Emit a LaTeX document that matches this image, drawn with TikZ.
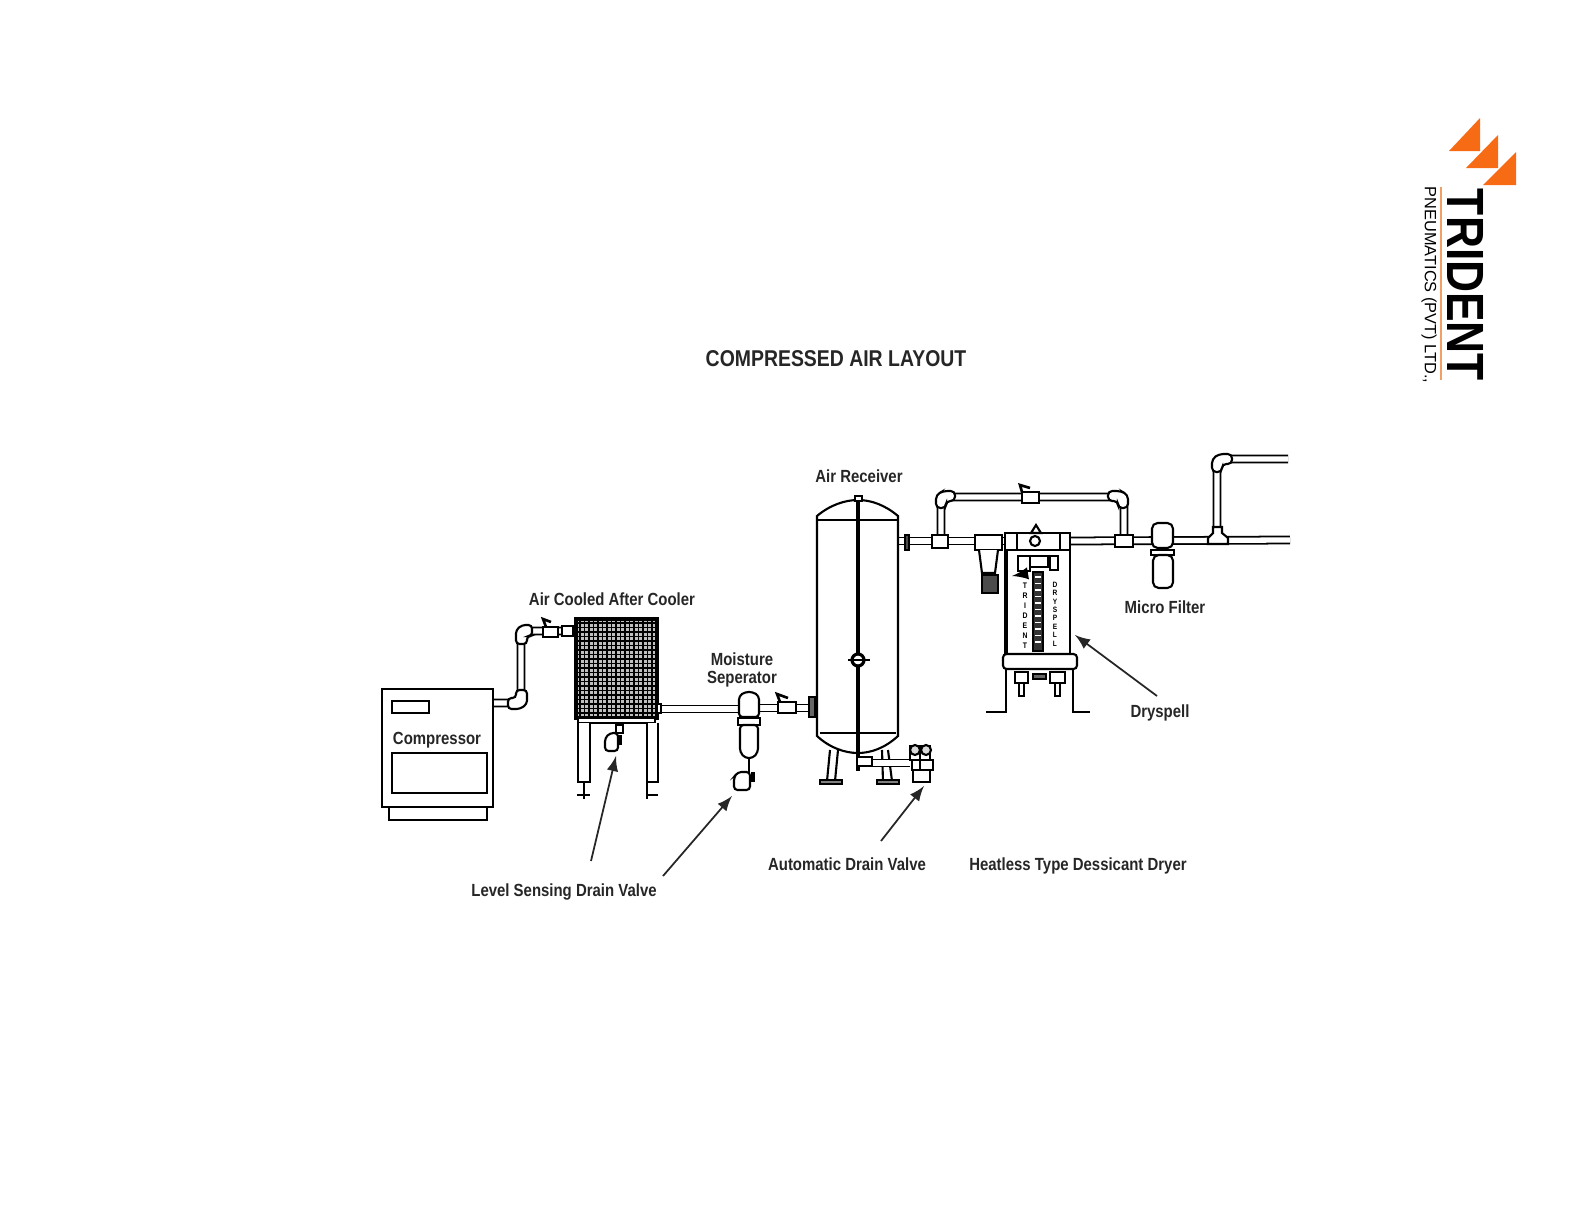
\documentclass[tikz,border=0pt]{standalone}
\usepackage{fontspec}
\usepackage{graphicx}
\usetikzlibrary{arrows}
\setmainfont{Liberation Sans}
\newfontfamily\labelfont[FakeStretch=0.85]{Liberation Sans}
\definecolor{logoorange}{RGB}{247,107,20}
\definecolor{logoline}{RGB}{240,160,100}
\def\lblsize{\fontsize{5}{5.2}\selectfont}
\tikzset{
  part/.style={draw=black,fill=white,line width=0.6pt},
  heavy/.style={draw=black,line width=0.75pt},
  pipe/.style={draw=black,line width=0.5pt,double=white,double distance=1.5pt,rounded corners=2.6pt},
  lbl/.style={inner sep=0pt,text=black!85,font=\labelfont\bfseries\lblsize,align=center},
  callout/.style={draw=black!85,line width=0.5pt,-latex},
  letters/.style={inner sep=0pt,font=\labelfont\bfseries\fontsize{2.3}{2.85}\selectfont,align=center}
}
\begin{document}
\begin{tikzpicture}[x=0.01cm,y=-0.01cm]
\useasboundingbox (0,0) rectangle (1584,1224);
\draw(836,359) node[lbl,font=\labelfont\bfseries\fontsize{6.5}{7}\selectfont] (title) {COMPRESSED AIR LAYOUT};
\draw[pipe] (493,703) -- (521,703) -- (521,631) -- (576,631);
\draw[part] (382,689) rectangle (493,807);
\draw[part] (389,807) rectangle (487,820);
\draw[heavy] (392,701) rectangle (429,713);
\draw[heavy] (392,753) rectangle (487,793);
\draw(437,740) node[lbl] (compressor) {Compressor};
\draw[part] (543,627) rectangle (558,637);
\draw[heavy] (546,627) -- (543,619) -- (551,622);
\draw[part] (562,626) rectangle (573,636);
\draw[part,rounded corners=1pt] (516,690) -- (527,690) -- (527,704) -- (520,709) -- (508,709) -- (508,698) -- (516,698) -- cycle;
\draw[part,rounded corners=1pt] (516,644) -- (516,630) -- (522,625) -- (532,625) -- (532,636) -- (527,636) -- (527,644) -- cycle;
\draw[part,fill=black!25] (576,619) rectangle (657,718);
\foreach \gx in {580,584.5,...,656} {\draw[line width=0.42pt] (\gx,620) -- (\gx,717);}
\foreach \gy in {623,627.5,...,716} {\draw[line width=0.55pt] (577,\gy) -- (656,\gy);}
\draw[heavy,line width=1pt] (576,619) rectangle (657,718);
\draw[part] (578,718) rectangle (655,723);
\draw[part] (578,723) -- (578,782) -- (590,782) -- (590,723);
\draw[part] (647,723) -- (647,782) -- (658,782) -- (658,723);
\draw[heavy] (584,782) -- (584,799);
\draw[heavy] (577,795) -- (590,795);
\draw[heavy] (647,782) -- (647,799);
\draw[heavy] (647,795) -- (658,795);
\draw[part] (616,725) rectangle (623,733);
\draw[part,rounded corners=1pt] (605,738) -- (610,733) -- (618,733) -- (618,751) -- (605,751) -- cycle;
\draw[heavy,line width=1.3pt] (620,735) -- (620,745);
\draw(612,599) node[lbl] (cooler) {Air Cooled After Cooler};
\draw[pipe] (658,709) -- (740,709);
\draw[pipe] (759,708) -- (810,708);
\draw[part] (657,704) rectangle (661,713);
\draw[part,rounded corners=1pt] (739,717) -- (739,696) -- (745,692) -- (753,692) -- (759,696) -- (759,717) -- cycle;
\draw[part] (738,718) rectangle (760,725);
\draw[part,rounded corners=1pt] (740,725) -- (740,752) -- (745,758) -- (753,758) -- (758,752) -- (758,725) -- cycle;
\draw[heavy] (749,758) -- (749,772);
\draw[part,rounded corners=1pt] (734,777) -- (738,772) -- (750,772) -- (750,790) -- (734,790) -- cycle;
\draw[heavy,line width=1.3pt] (753,772) -- (753,782);
\draw[part] (778,702) rectangle (796,713);
\draw[heavy] (780,702) -- (777,694) -- (788,698);
\draw[part,fill=black!60] (809,697) rectangle (815,717);
\draw(742,670) node[lbl] (separator) {Moisture\\Seperator};
\draw[pipe] (898,541) -- (1006,541);
\draw[pipe] (1070,541) -- (1290,540);
\draw[pipe] (941,537) -- (941,497) -- (1124,497) -- (1124,537);
\draw[pipe] (1217,530) -- (1217,459) -- (1288,459);
\draw[part,fill=black!70] (905,535) rectangle (909,550);
\draw[part] (830,750) -- (827,781) -- (835,781) -- (838,750);
\draw[part] (882,750) -- (883,781) -- (892,781) -- (888,750);
\draw[part,fill=black!50] (820,780) rectangle (842,784);
\draw[part,fill=black!50] (877,780) rectangle (899,784);
\draw[part] (817,736) -- (817,516) .. controls (830,505) and (845,500) .. (858,500) .. controls (871,500) and (885,505) .. (898,516) -- (898,736) .. controls (885,748) and (871,753) .. (858,753) .. controls (845,753) and (830,748) .. (817,736) -- cycle;
\draw[heavy] (817,520) -- (898,520);
\draw[heavy] (820,733) -- (896,733);
\draw[heavy,line width=0.9pt] (858,497) -- (858,771);
\draw[part] (855,496) rectangle (862,501);
\draw[part,line width=0.9pt] (858,660) circle (6);
\draw[heavy] (848,660) -- (870,660);
\draw[pipe] (864,763) -- (910,763);
\draw[part] (857,757) rectangle (872,766);
\draw[part] (910,746) rectangle (930,760);
\draw[part,fill=black!15] (915,750) circle (5);
\draw[part,fill=black!15] (926,750) circle (5);
\draw[part] (912,760) rectangle (933,770);
\draw[part] (913,770) rectangle (930,782);
\draw[heavy] (920,746) -- (920,770);
\draw(859,476) node[lbl] (receiver) {Air Receiver};
\draw[part] (932,535) rectangle (948,548);
\draw[part] (1115,535) rectangle (1133,547);
\draw[part] (1022,492) rectangle (1039,503);
\draw[heavy] (1022,492) -- (1020,485) -- (1030,488);
\draw[part,rounded corners=1.2pt] (936,508) -- (936,495) -- (943,491) -- (955,491) -- (955,501) -- (946,501) -- (946,508) -- cycle;
\draw[part,rounded corners=1.2pt] (1128,508) -- (1128,495) -- (1121,491) -- (1108,491) -- (1108,501) -- (1118,501) -- (1118,508) -- cycle;
\draw[part] (975,535) rectangle (1002,550);
\draw[part] (979,550) -- (982,573) -- (995,573) -- (998,550);
\draw[part,fill=black!70] (982,575) rectangle (998,593);
\draw[part] (1006,550) rectangle (1070,654);
\draw[heavy,line width=1.2pt] (1006,550) -- (1006,654);
\draw[part] (1005,533) rectangle (1070,550);
\draw[part] (1017,533) rectangle (1060,550);
\draw[part] (1035,541) circle (5);
\draw[part] (1031,533) -- (1036,525) -- (1041,533) -- cycle;
\draw[part] (1018,556) rectangle (1030,571);
\draw[part] (1030,556) rectangle (1048,567);
\draw[part] (1050,556) rectangle (1058,570);
\draw[heavy,line width=0.6pt,-latex] (1024,574) -- (1012,576);
\draw[draw=black,fill=black!80] (1033,572) rectangle (1043,651);
\foreach \cy in {577,583.5,...,648} {\draw[white,line width=0.5pt] (1035,\cy) -- (1041,\cy);}
\draw(1025,616) node[letters] (brandA) {T\\R\\I\\D\\E\\N\\T};
\draw(1055,614) node[letters,font=\labelfont\bfseries\fontsize{2.2}{2.4}\selectfont] (brandB) {D\\R\\Y\\S\\P\\E\\L\\L};
\draw[part,rounded corners=1pt] (1003,654) rectangle (1077,669);
\draw[heavy] (1006,669) -- (1006,712) -- (986,712);
\draw[heavy] (1073,669) -- (1073,712) -- (1090,712);
\draw[part] (1015,672) rectangle (1028,683);
\draw[part] (1019,683) rectangle (1024,696);
\draw[part] (1050,672) rectangle (1065,683);
\draw[part] (1055,683) rectangle (1060,696);
\draw[part,fill=black!60] (1033,674) rectangle (1046,679);
\draw[part,rounded corners=1.6pt] (1152,548) -- (1152,523) -- (1173,523) -- (1173,548) -- cycle;
\draw[part] (1151,550) rectangle (1174,555);
\draw[part,rounded corners=1.6pt] (1153,555) -- (1153,588) -- (1173,588) -- (1173,555) -- cycle;
\draw[part] (1208,544) -- (1208,538) -- (1213,533) -- (1213,527) -- (1222,527) -- (1222,533) -- (1228,538) -- (1228,544) -- cycle;
\draw[part,rounded corners=1.2pt] (1212,472) -- (1212,459) -- (1219,454) -- (1232,454) -- (1232,464) -- (1222,464) -- (1222,472) -- cycle;
\draw(1165,607) node[lbl] (microfilter) {Micro Filter};
\draw(1160,713) node[lbl] (dryspell) {Dryspell};
\draw(564,892) node[lbl] (levelvalve) {Level Sensing Drain Valve};
\draw(847,864) node[lbl] (autovalve) {Automatic Drain Valve};
\draw(1078,866) node[lbl] (dryer) {Heatless Type Dessicant Dryer};
\coordinate (levelA) at (591,861);
\coordinate (levelB) at (616,756);
\coordinate (moistA) at (663,876);
\coordinate (moistB) at (732,796);
\coordinate (autoA) at (881,841);
\coordinate (autoB) at (924,786);
\coordinate (dryA) at (1157,696);
\coordinate (dryB) at (1075,635);
\draw[callout] (levelA) -- (levelB);
\draw[callout] (moistA) -- (moistB);
\draw[callout] (autoA) -- (autoB);
\draw[callout] (dryA) -- (dryB);
\fill[logoorange] (1480,118) -- (1480,151) -- (1449,151) -- cycle;
\fill[logoorange] (1498,135) -- (1498,168) -- (1466,168) -- cycle;
\fill[logoorange] (1516,152) -- (1516,185) -- (1483,185) -- cycle;
\draw[logoline,line width=0.35pt] (1441,187) -- (1441,380);
\draw(1466,285) node[rotate=-90,inner sep=0pt] (brand) {\resizebox{1.92cm}{0.36cm}{\textbf{TRIDENT}}};
\draw(1429,285) node[rotate=-90,inner sep=0pt,font=\fontsize{4.65}{5}\selectfont] (company) {PNEUMATICS (PVT) LTD.,};
\end{tikzpicture}
\end{document}
